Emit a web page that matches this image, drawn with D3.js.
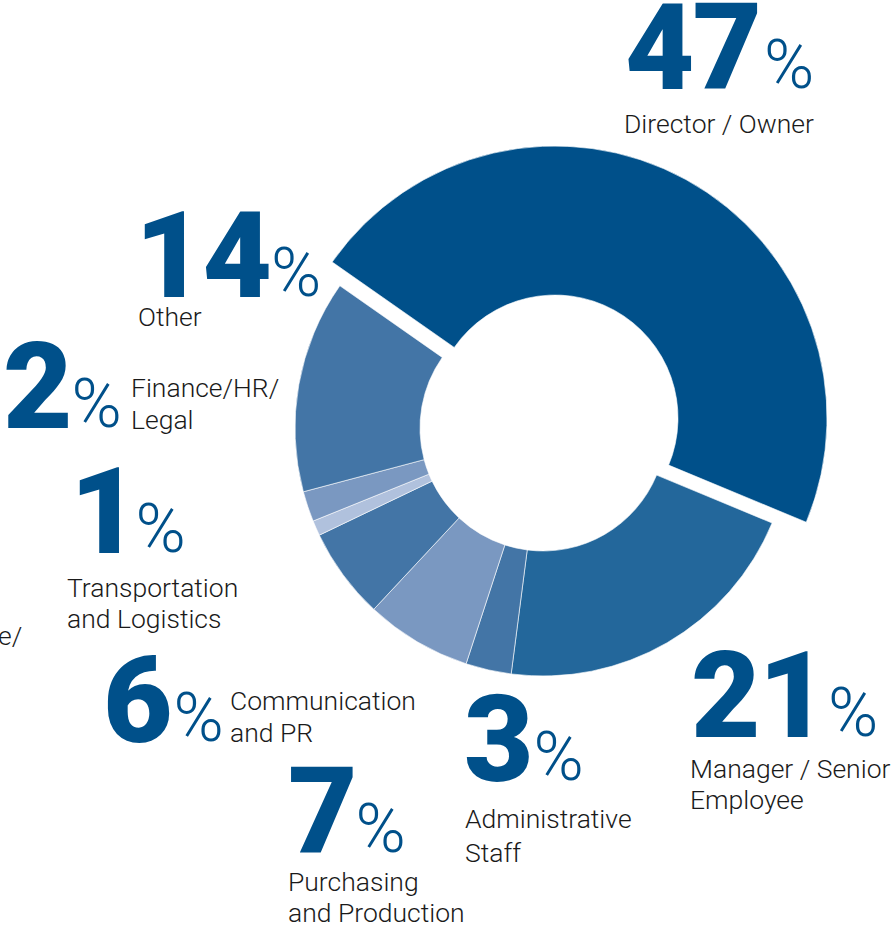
<!DOCTYPE html>
<html><head><meta charset="utf-8">
<script src="https://cdn.jsdelivr.net/npm/d3@7/dist/d3.min.js"></script>
<style>
html,body{margin:0;padding:0;background:#fff;overflow:hidden}
svg{display:block}
</style></head>
<body>
<svg id="chart" width="893" height="926"></svg>
<script>
// ---- data ----
const categories = ["Director / Owner","Manager / Senior\nEmployee","Administrative\nStaff","Purchasing\nand Production","Communication\nand PR","Transportation\nand Logistics","Finance/HR/\nLegal","Other"];
const values = [47,21,3,7,6,1,2,14];
const colors = ["#00508a","#23679b","#4375a6","#7a98c1","#4375a6","#b0c1dd","#7a98c1","#4375a6"];

// ---- layout (positions only) ----
const W=893,H=926;
const cx=543, cy=428, rIn=123, rOut=248;
const explodeIdx=0, explodeDx=12, explodeDy=-10, explodeROut=272;
const startDeg=-55;
const labelLayout=[
  {x:625,y:89, tx:624,ty:133, lh:31},
  {x:691,y:737, tx:690,ty:778, lh:31},
  {x:464,y:781, tx:465,ty:828, lh:34},
  {x:288,y:853, tx:288,ty:891, lh:31},
  {x:103,y:742, tx:230,ty:710, lh:32},
  {x:70,y:553, tx:67,ty:597, lh:31},
  {x:3,y:428, tx:131,ty:397, lh:32},
  {x:135,y:297, tx:138,ty:326, lh:31}
];
const pctOffset=[4,2,2,0,3,-2,1,1];

const svg=d3.select("#chart");
const pie=d3.pie().sort(null).value(d=>d)
  .startAngle(startDeg*Math.PI/180).endAngle(startDeg*Math.PI/180+2*Math.PI);
const arcs=pie(values);
const g=svg.append("g").attr("transform",`translate(${cx},${cy})`);
const arcGen=d3.arc().innerRadius(rIn);
g.selectAll("path").data(arcs).join("path")
  .attr("d",(d,i)=>arcGen.outerRadius(i===explodeIdx?explodeROut:rOut)(d))
  .attr("fill",(d,i)=>colors[i])
  .attr("stroke","#fff").attr("stroke-width",0.6)
  .attr("transform",(d,i)=>i===explodeIdx?`translate(${explodeDx},${explodeDy})`:null);

// ---- labels ----
const lab=svg.append("g");
values.forEach((v,i)=>{
  const L=labelLayout[i];
  const num=lab.append("text").attr("x",L.x).attr("y",L.y)
    .attr("font-family","Roboto, 'Noto Sans', sans-serif").attr("font-weight",900)
    .attr("font-size",120).attr("fill","#00508a").attr("letter-spacing",-2).text(v);
  const bb=num.node().getBBox();
  lab.append("text").attr("x",bb.x+bb.width+pctOffset[i]).attr("y",L.y-1)
    .attr("font-family","Roboto, 'Noto Sans', sans-serif").attr("font-weight",300)
    .attr("font-size",68).attr("fill","#00508a").text("%");
  const t=lab.append("text").attr("font-family","Roboto, 'Noto Sans', sans-serif")
    .attr("font-weight",300).attr("font-size",26.5).attr("fill","#1a1a1a");
  categories[i].split("\n").forEach((line,j)=>{
    t.append("tspan").attr("x",L.tx).attr("y",L.ty+j*L.lh).text(line);
  });
});
// partially visible label at the left edge
svg.append("text").attr("x",-2).attr("y",645)
  .attr("font-family","Roboto, 'Noto Sans', sans-serif").attr("font-weight",300)
  .attr("font-size",26.5).attr("fill","#1a1a1a").text("e/");
</script>
</body></html>
